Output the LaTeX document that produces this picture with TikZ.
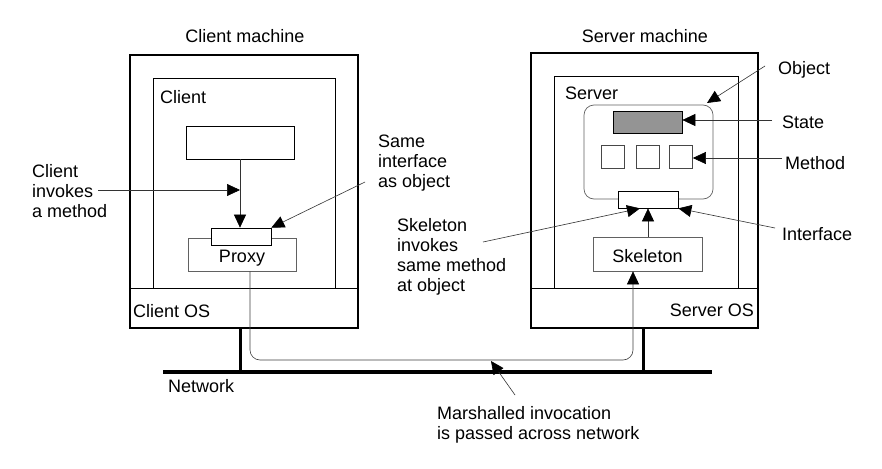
\documentclass[tikz,border=0pt]{standalone}
\usepackage{fontspec}
\setmainfont{Liberation Sans}
\usetikzlibrary{arrows.meta}
\begin{document}
\begin{tikzpicture}[x=1pt,y=-1pt,
  font=\fontsize{18}{20}\selectfont,
  >={Triangle[length=13pt,width=12pt,color=black]},
  box/.style={draw,rectangle,inner sep=0pt,line width=0.7pt},
  greybox/.style={box,draw=black!62},
  machine/.style={box,line width=1.8pt},
  txt/.style={inner sep=0pt,align=left},
  pointer/.style={->,draw=black!80,line width=0.6pt},
  leg/.style={line width=3pt}]
  \useasboundingbox[fill=white] (0,0) rectangle (882,468);
  % client side
  \node[machine,minimum width=228pt,minimum height=273pt] (cmachine) at (244,191.5) {};
  \node[box,minimum width=182pt,minimum height=210pt] (client) at (244,183) {};
  \draw[line width=0.9pt] (cmachine.west |- client.south) -- (cmachine.east |- client.south);
  \node[box,minimum width=108pt,minimum height=33pt] (caller) at (240,142.5) {};
  \node[greybox,minimum width=108pt,minimum height=33pt,text height=16pt,text depth=0pt] (proxy) at (242,254.5) {Proxy};
  \node[box,fill=white,minimum width=60pt,minimum height=17pt] (proxyif) at (241,236.5) {};
  \node[txt,anchor=base] (cmlabel) at (245,42.5) {Client machine};
  \node[txt,anchor=base west] (clabel) at (160,103.5) {Client};
  \node[txt,anchor=base west] (coslabel) at (133,317.5) {Client OS};
  % server side
  \node[machine,minimum width=227pt,minimum height=275pt] (smachine) at (644.5,190.5) {};
  \node[box,minimum width=184pt,minimum height=212pt] (server) at (646,182) {};
  \draw[line width=0.9pt] (smachine.west |- server.south) -- (smachine.east |- server.south);
  \node[greybox,rounded corners=10pt,minimum width=129pt,minimum height=94pt] (object) at (648.5,152) {};
  \node[box,fill=black!42,minimum width=69pt,minimum height=22pt] (state) at (647.5,122) {};
  \foreach \x/\name in {612.5/m1,648/m2,681/m3}
    \node[greybox,draw=black!72,minimum size=23pt] (\name) at (\x,156.5) {};
  \node[box,fill=white,minimum width=60pt,minimum height=17pt] (srvif) at (648,199.5) {};
  \node[greybox,minimum width=109pt,minimum height=34pt,text height=16pt,text depth=0pt] (skeleton) at (647.5,254) {Skeleton};
  \node[txt,anchor=base] (smlabel) at (645,42.5) {Server machine};
  \node[txt,anchor=base west] (slabel) at (565,99.5) {Server};
  \node[txt,anchor=base east] (soslabel) at (754,316.5) {Server OS};
  % network
  \coordinate (netL) at (163,372);
  \coordinate (netR) at (712,372);
  \draw[line width=4pt] (netL) -- (netR);
  \coordinate (cleg) at (240,372);
  \coordinate (sleg) at (643,372);
  \draw[leg] (cleg |- cmachine.south) -- (cleg);
  \draw[leg] (sleg |- smachine.south) -- (sleg);
  \node[txt,anchor=base west] (netlabel) at (168,392.5) {Network};
  % invocation path
  \draw[pointer] (caller.south) -- (caller.south |- proxyif.north);
  \draw[pointer] (skeleton.north -| srvif.south) -- (srvif.south);
  \coordinate (wireL) at (250,360);
  \coordinate (wireR) at (633,360);
  \draw[pointer,draw=black!75,rounded corners=10pt] (wireL |- proxy.south) -- (wireL) -- (wireR) -- (wireR |- skeleton.south);
  % annotations
  \node[txt,anchor=north west] (invtxt) at (32,164.5) {Client\\invokes\\a method};
  \coordinate (invfrom) at (98,190);
  \draw[pointer] (invfrom) -- (caller.south |- invfrom);
  \node[txt,anchor=north west] (sametxt) at (378,134.5) {Same\\interface\\as object};
  \coordinate (samefrom) at (365,182);
  \draw[pointer] (samefrom) -- (proxyif.north east);
  \node[txt,anchor=north west] (skeltxt) at (397,218.5) {Skeleton\\invokes\\same method\\at object};
  \coordinate (skelfrom) at (483,242);
  \draw[pointer] (skelfrom) -- ([xshift=-8pt]srvif.south);
  \node[txt,anchor=north west] (marshtxt) at (437,406.5) {Marshalled invocation\\is passed across network};
  \coordinate (marshfrom) at (515,395);
  \draw[pointer] (marshfrom) -- (491,361);
  \node[txt,anchor=base west] (objlabel) at (778,74.5) {Object};
  \coordinate (objfrom) at (765,66);
  \draw[pointer] (objfrom) -- (707,103);
  \node[txt,anchor=base west] (statelabel) at (782,128.5) {State};
  \draw[pointer] (772,120) -- (state.east |- 0,120);
  \node[txt,anchor=base west] (methlabel) at (785,169.5) {Method};
  \draw[pointer] (782,158) -- (m3.east |- 0,158);
  \node[txt,anchor=base west] (iflabel) at (782,240) {Interface};
  \draw[pointer] (775,228) -- (srvif.south east);
\end{tikzpicture}
\end{document}
